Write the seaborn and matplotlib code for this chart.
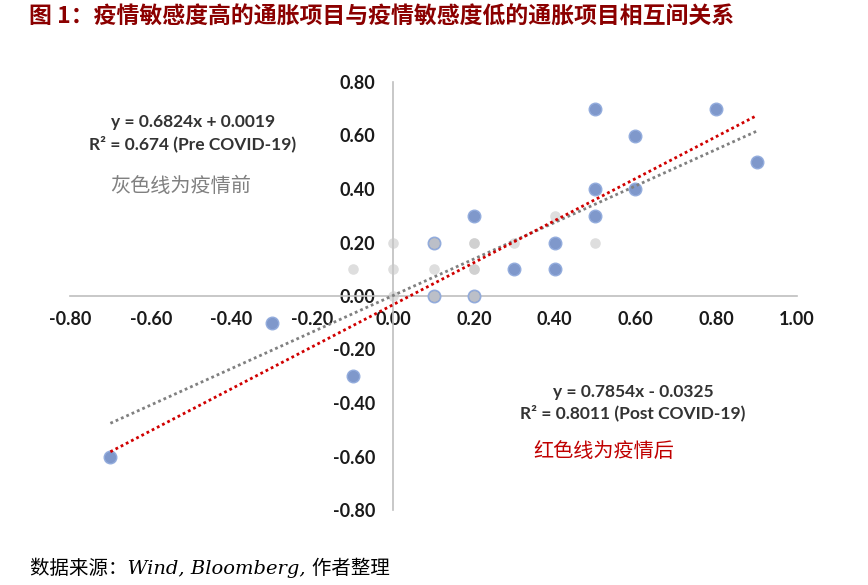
import numpy as np
import pandas as pd
import matplotlib
matplotlib.use("Agg")
import matplotlib.pyplot as plt
import seaborn as sns

# ---- data ----
post_x = [-0.7, -0.3, -0.1, 0.1, 0.1, 0.2, 0.2, 0.3, 0.4, 0.4, 0.5, 0.5, 0.5, 0.6, 0.6, 0.8, 0.9]
post_y = [-0.6, -0.1, -0.3, 0.2, 0.0, 0.0, 0.3, 0.1, 0.2, 0.1, 0.7, 0.4, 0.3, 0.6, 0.4, 0.7, 0.5]

pre_x = [-0.1, 0.0, 0.0, 0.0, 0.1, 0.1, 0.1, 0.1, 0.1, 0.2, 0.2, 0.2, 0.2, 0.2, 0.2, 0.3, 0.4, 0.5]
pre_y = [0.1, 0.1, 0.2, 0.0, 0.1, 0.2, 0.2, 0.0, 0.0, 0.1, 0.1, 0.2, 0.2, 0.0, 0.0, 0.2, 0.3, 0.2]

pre_slope, pre_intercept = 0.6824, 0.0019
post_slope, post_intercept = 0.7854, -0.0325
trend_x_range = [-0.7, 0.9]

ticks = [-0.8, -0.6, -0.4, -0.2, 0.0, 0.2, 0.4, 0.6, 0.8, 1.0]
yticks = [-0.8, -0.6, -0.4, -0.2, 0.0, 0.2, 0.4, 0.6, 0.8]

title = "图 1：疫情敏感度高的通胀项目与疫情敏感度低的通胀项目相互间关系"
pre_eq = "y = 0.6824x + 0.0019"
pre_r2 = "R² = 0.674 (Pre COVID-19)"
pre_note = "灰色线为疫情前"
post_eq = "y = 0.7854x - 0.0325"
post_r2 = "R² = 0.8011 (Post COVID-19)"
post_note = "红色线为疫情后"
source = "数据来源：Wind, Bloomberg, 作者整理"

# ---- styling ----
sns.set_theme(style="white")
plt.rcParams["font.family"] = ["Lato", "Noto Sans CJK SC", "DejaVu Sans"]

W, H = 868, 585
fig = plt.figure(figsize=(W / 100, H / 100), dpi=100)
ax = fig.add_axes([70 / W, 1 - 510 / H, (797 - 70) / W, (510 - 82) / H])

def px(x, y):
    return x / W, 1 - y / H

post_df = pd.DataFrame({"x": post_x, "y": post_y})
pre_df = pd.DataFrame({"x": pre_x, "y": pre_y})

sns.scatterplot(data=post_df, x="x", y="y", ax=ax, s=82, color="#7F98CB",
                edgecolor="#93ACDD", linewidth=1.0, zorder=3, legend=False)
sns.scatterplot(data=pre_df, x="x", y="y", ax=ax, s=58, color="#C8C8C8",
                alpha=0.6, linewidth=0, zorder=4, legend=False)

tx = np.array(trend_x_range)
sns.lineplot(x=tx, y=pre_slope * tx + pre_intercept, ax=ax, color="#808080",
             linewidth=2.0, linestyle=(0, (1, 1.1)), zorder=5)
sns.lineplot(x=tx, y=post_slope * tx + post_intercept, ax=ax, color="#D00000",
             linewidth=2.0, linestyle=(0, (1, 1.1)), zorder=6)

ax.set_xlim(-0.8, 1.0)
ax.set_ylim(-0.8, 0.8)
ax.set_xticks(ticks)
ax.set_yticks(yticks)
ax.set_xticklabels([f"{t:.2f}" for t in ticks])
ax.set_yticklabels([f"{t:.2f}" for t in yticks])
ax.set_xlabel("")
ax.set_ylabel("")

for side in ["top", "right"]:
    ax.spines[side].set_visible(False)
ax.spines["left"].set_position(("data", 0))
ax.spines["bottom"].set_position(("data", 0))
for side in ["left", "bottom"]:
    ax.spines[side].set_color("#BFBFBF")
    ax.spines[side].set_linewidth(1.2)
    ax.spines[side].set_zorder(1)
ax.tick_params(axis="both", length=0, labelsize=13, labelcolor="#1A1A1A")
ax.tick_params(axis="x", pad=11)
ax.tick_params(axis="y", pad=13)
for lab in ax.get_xticklabels() + ax.get_yticklabels():
    lab.set_fontweight("bold")
ax.patch.set_alpha(0)

# ---- texts ----
fig.text(*px(29, 17), title, fontsize=16.5, fontweight="bold", color="#8B0000",
         ha="left", va="center", family=["Noto Sans CJK SC", "DejaVu Sans"])

txt_col = "#333333"
fig.text(*px(193, 122), pre_eq, fontsize=12.5, fontweight="bold", color=txt_col,
         ha="center", va="center")
fig.text(*px(193, 144), pre_r2, fontsize=12.5, fontweight="bold", color=txt_col,
         ha="center", va="center")
fig.text(*px(110, 186), pre_note, fontsize=14.5, color="#808080",
         ha="left", va="center", family=["Noto Sans CJK SC", "DejaVu Sans"])

fig.text(*px(633, 392), post_eq, fontsize=12.5, fontweight="bold", color=txt_col,
         ha="center", va="center")
fig.text(*px(633, 413), post_r2, fontsize=12.5, fontweight="bold", color=txt_col,
         ha="center", va="center")
fig.text(*px(533, 452), post_note, fontsize=14.5, color="#C00000",
         ha="left", va="center", family=["Noto Sans CJK SC", "DejaVu Sans"])

fig.text(*px(30, 568), source, fontsize=14, style="italic", color="#000000",
         ha="left", va="center", family=["DejaVu Serif", "Noto Sans CJK SC"])

fig.savefig("out.png", dpi=100)
